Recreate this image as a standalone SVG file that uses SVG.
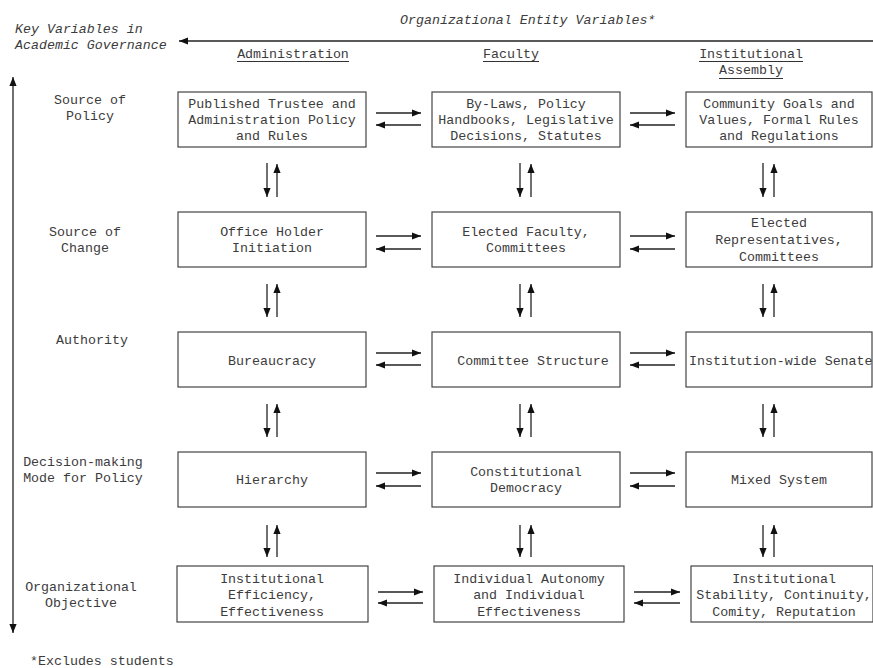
<svg xmlns="http://www.w3.org/2000/svg" width="873" height="668" viewBox="0 0 873 668">
  <style>
    text { font-family: "Liberation Mono", "Courier New", monospace; font-size: 13.3px; fill: #3c3c3c; }
    .c { text-anchor: middle; }
    .it { font-style: italic; }
    .box { fill: #fff; stroke: #444; stroke-width: 1.2; }
    .ln { stroke: #222; stroke-width: 1.3; fill: none; marker-end: url(#ah); }
    .ul { stroke: #333; stroke-width: 1; }
  </style>
  <defs>
    <marker id="ah" viewBox="0 0 10 8" refX="10" refY="4" markerWidth="9" markerHeight="8" orient="auto-start-reverse" markerUnits="userSpaceOnUse">
      <path d="M0,0 L10,4 L0,8 z" fill="#111"/>
    </marker>
  </defs>

  <rect width="873" height="668" fill="#fff"/>

  <!-- headings -->
  <g id="headings">
    <text class="it" x="400" y="24">Organizational Entity Variables*</text>
    <text class="it" x="15" y="33">Key Variables in</text>
    <text class="it" x="15" y="49">Academic Governance</text>
    <text class="c" x="293" y="58">Administration</text>
    <line class="ul" x1="237" y1="61.5" x2="349" y2="61.5"/>
    <text class="c" x="511" y="58">Faculty</text>
    <line class="ul" x1="483" y1="61.5" x2="539" y2="61.5"/>
    <text class="c" x="751" y="58">Institutional</text>
    <line class="ul" x1="699" y1="61.5" x2="803" y2="61.5"/>
    <text class="c" x="751" y="74">Assembly</text>
    <line class="ul" x1="719" y1="78.5" x2="783" y2="78.5"/>
  </g>

  <!-- row labels -->
  <g id="row-labels">
    <text class="c" x="90" y="104">Source of</text>
    <text class="c" x="90" y="120">Policy</text>
    <text class="c" x="85" y="236">Source of</text>
    <text class="c" x="85" y="252">Change</text>
    <text class="c" x="92" y="344">Authority</text>
    <text class="c" x="83" y="466">Decision-making</text>
    <text class="c" x="83" y="482">Mode for Policy</text>
    <text class="c" x="81" y="591">Organizational</text>
    <text class="c" x="81" y="607">Objective</text>
    <text x="30" y="665">*Excludes students</text>
  </g>

  <!-- row 1 -->
  <g id="adm-policy">
    <rect class="box" x="178" y="92" width="188" height="55"/>
    <text class="c" x="272" y="108">Published Trustee and</text>
    <text class="c" x="272" y="124">Administration Policy</text>
    <text class="c" x="272" y="140">and Rules</text>
  </g>
  <g id="fac-policy">
    <rect class="box" x="432" y="92" width="188" height="55"/>
    <text class="c" x="526" y="108">By-Laws, Policy</text>
    <text class="c" x="526" y="124">Handbooks, Legislative</text>
    <text class="c" x="526" y="140">Decisions, Statutes</text>
  </g>
  <g id="ia-policy">
    <rect class="box" x="686" y="92" width="186" height="55"/>
    <text class="c" x="779" y="108">Community Goals and</text>
    <text class="c" x="779" y="124">Values, Formal Rules</text>
    <text class="c" x="779" y="140">and Regulations</text>
  </g>

  <!-- row 2 -->
  <g id="adm-change">
    <rect class="box" x="178" y="212" width="188" height="55"/>
    <text class="c" x="272" y="236">Office Holder</text>
    <text class="c" x="272" y="252">Initiation</text>
  </g>
  <g id="fac-change">
    <rect class="box" x="432" y="212" width="188" height="55"/>
    <text class="c" x="526" y="236">Elected Faculty,</text>
    <text class="c" x="526" y="252">Committees</text>
  </g>
  <g id="ia-change">
    <rect class="box" x="686" y="212" width="186" height="55"/>
    <text class="c" x="779" y="227">Elected</text>
    <text class="c" x="779" y="244">Representatives,</text>
    <text class="c" x="779" y="261">Committees</text>
  </g>

  <!-- row 3 -->
  <g id="adm-authority">
    <rect class="box" x="178" y="332" width="188" height="55"/>
    <text class="c" x="272" y="365">Bureaucracy</text>
  </g>
  <g id="fac-authority">
    <rect class="box" x="432" y="332" width="188" height="55"/>
    <text class="c" x="533" y="365">Committee Structure</text>
  </g>
  <g id="ia-authority">
    <rect class="box" x="686" y="332" width="186" height="55"/>
    <text x="689" y="365">Institution-wide Senate</text>
  </g>

  <!-- row 4 -->
  <g id="adm-mode">
    <rect class="box" x="178" y="452" width="188" height="55"/>
    <text class="c" x="272" y="484">Hierarchy</text>
  </g>
  <g id="fac-mode">
    <rect class="box" x="432" y="452" width="188" height="55"/>
    <text class="c" x="526" y="476">Constitutional</text>
    <text class="c" x="526" y="492">Democracy</text>
  </g>
  <g id="ia-mode">
    <rect class="box" x="686" y="452" width="186" height="55"/>
    <text class="c" x="779" y="484">Mixed System</text>
  </g>

  <!-- row 5 -->
  <g id="adm-objective">
    <rect class="box" x="177" y="566" width="191" height="56"/>
    <text class="c" x="272" y="583">Institutional</text>
    <text class="c" x="272" y="599">Efficiency,</text>
    <text class="c" x="272" y="616">Effectiveness</text>
  </g>
  <g id="fac-objective">
    <rect class="box" x="434" y="566" width="190" height="56"/>
    <text class="c" x="529" y="583">Individual Autonomy</text>
    <text class="c" x="529" y="599">and Individual</text>
    <text class="c" x="529" y="616">Effectiveness</text>
  </g>
  <g id="ia-objective">
    <rect class="box" x="691" y="566" width="182" height="56"/>
    <text class="c" x="784" y="583">Institutional</text>
    <text class="c" x="784" y="599">Stability, Continuity,</text>
    <text class="c" x="784" y="616">Comity, Reputation</text>
  </g>

  <!-- connectors -->
  <g id="connectors">
    <!-- axes -->
    <path class="ln" d="M873,41 H179"/>
    <path class="ln" d="M13,633 V77" style="marker-start:url(#ah)"/>

    <!-- horizontal pairs -->
    <path class="ln" d="M376,113 H421"/><path class="ln" d="M421,125 H376"/>
    <path class="ln" d="M630,113 H675"/><path class="ln" d="M675,125 H630"/>
    <path class="ln" d="M376,236 H421"/><path class="ln" d="M421,249 H376"/>
    <path class="ln" d="M630,236 H675"/><path class="ln" d="M675,249 H630"/>
    <path class="ln" d="M376,353 H421"/><path class="ln" d="M421,365 H376"/>
    <path class="ln" d="M630,353 H675"/><path class="ln" d="M675,365 H630"/>
    <path class="ln" d="M376,473 H421"/><path class="ln" d="M421,486 H376"/>
    <path class="ln" d="M630,473 H675"/><path class="ln" d="M675,486 H630"/>
    <path class="ln" d="M378,592 H423"/><path class="ln" d="M423,603 H378"/>
    <path class="ln" d="M634,592 H680"/><path class="ln" d="M680,603 H634"/>

    <!-- vertical pairs: rows 1-2 -->
    <path class="ln" d="M267,163 V197"/><path class="ln" d="M277,197 V164"/>
    <path class="ln" d="M520,163 V197"/><path class="ln" d="M531,197 V164"/>
    <path class="ln" d="M763,163 V197"/><path class="ln" d="M774,197 V164"/>
    <!-- rows 2-3 -->
    <path class="ln" d="M267,284 V317"/><path class="ln" d="M277,317 V284"/>
    <path class="ln" d="M520,284 V317"/><path class="ln" d="M531,317 V284"/>
    <path class="ln" d="M763,284 V317"/><path class="ln" d="M774,317 V284"/>
    <!-- rows 3-4 -->
    <path class="ln" d="M267,404 V437"/><path class="ln" d="M277,437 V404"/>
    <path class="ln" d="M520,404 V437"/><path class="ln" d="M531,437 V404"/>
    <path class="ln" d="M763,404 V437"/><path class="ln" d="M774,437 V404"/>
    <!-- rows 4-5 -->
    <path class="ln" d="M267,525 V557"/><path class="ln" d="M277,557 V525"/>
    <path class="ln" d="M520,525 V557"/><path class="ln" d="M531,557 V525"/>
    <path class="ln" d="M763,525 V557"/><path class="ln" d="M774,557 V525"/>
  </g>
</svg>
